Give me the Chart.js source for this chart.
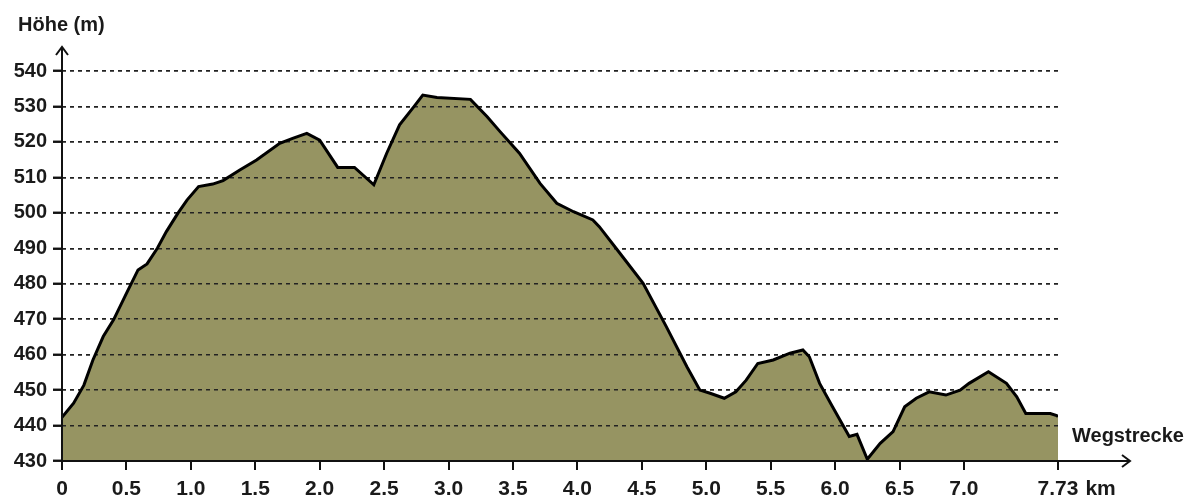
<!DOCTYPE html>
<html lang="de">
<head>
    <meta charset="UTF-8">
    <title>Höhenprofil</title>
    <script src="https://cdn.jsdelivr.net/npm/chart.js@4/dist/chart.umd.min.js"></script>
    <style>
        body { margin: 0; background: #ffffff; }
        #box { width: 1199px; height: 502px; }
    </style>
</head>
<body>
    <div id="box">
        <canvas id="profil" width="1199" height="502"></canvas>
    </div>
    <script>
        // Wegstrecke in km
        const strecke = [0, 0.09, 0.17, 0.24, 0.32, 0.40, 0.50, 0.59, 0.66, 0.74, 0.81, 0.90, 0.97, 1.06, 1.17, 1.25,
            1.38, 1.51, 1.69, 1.79, 1.90, 2.00, 2.14, 2.27, 2.42, 2.52, 2.62, 2.73, 2.80, 2.91, 3.17, 3.30, 3.40, 3.55,
            3.71, 3.84, 3.97, 4.12, 4.17, 4.33, 4.51, 4.69, 4.85, 4.95, 5.03, 5.14, 5.23, 5.31, 5.40, 5.52, 5.65, 5.75,
            5.80, 5.88, 5.98, 6.11, 6.17, 6.25, 6.35, 6.45, 6.54, 6.63, 6.73, 6.86, 6.97, 7.04, 7.19, 7.33, 7.41, 7.48,
            7.67, 7.72, 7.73];
        // Höhe in m
        const hoehe = [442.3, 446.3, 451.4, 458.5, 465.1, 469.8, 477.3, 483.9, 485.6, 490, 494.7, 499.9, 503.6, 507.4, 508.1, 509.1,
            512.1, 514.9, 519.6, 521, 522.4, 520.5, 512.8, 512.8, 507.9, 516.8, 524.8, 529.9, 533.2, 532.5, 532, 527.1, 522.9, 516.8,
            508.3, 502.7, 500.3, 498, 496.1, 488.6, 480.1, 467.9, 456.6, 450, 449.1, 447.7, 449.5, 452.8, 457.5, 458.5, 460.4, 461.3,
            459.4, 451.9, 445.3, 436.9, 437.5, 430.5, 435, 438.3, 445.3, 447.7, 449.5, 448.6, 450, 451.9, 455.2, 451.9, 448.1, 443.4,
            443.4, 442.8, 442.5];
        const xTicks = [0, 0.5, 1.0, 1.5, 2.0, 2.5, 3.0, 3.5, 4.0, 4.5, 5.0, 5.5, 6.0, 6.5, 7.0, 7.73];
        const xLabels = ["0", "0.5", "1.0", "1.5", "2.0", "2.5", "3.0", "3.5", "4.0", "4.5", "5.0", "5.5", "6.0", "6.5", "7.0", "7.73"];
        const yMin = 430;
        const yMax = 540;

        const punkte = strecke.map((s, i) => ({ x: s, y: hoehe[i] }));
        const schrift = "'Liberation Sans', Arial, sans-serif";

        // Gitter nochmal über die Fläche zeichnen, Pfeile und Beschriftungen
        const extras = {
            id: 'extras',
            afterDatasetDraw(chart, args) {
                if (args.index === 0) {
                    chart.scales.y.drawGrid(chart.chartArea);
                }
            },
            afterDraw(chart) {
                const c = chart.ctx;
                const x0 = chart.scales.x.getPixelForValue(0);
                const y0 = chart.scales.y.getPixelForValue(yMin);
                c.save();
                c.strokeStyle = '#111';
                c.lineWidth = 2;
                c.beginPath();
                c.moveTo(x0, y0);
                c.lineTo(x0, 47);
                c.moveTo(x0 - 6, 55);
                c.lineTo(x0, 47);
                c.lineTo(x0 + 6, 55);
                c.moveTo(x0, y0);
                c.lineTo(1130, y0);
                c.moveTo(1122, y0 - 6);
                c.lineTo(1130, y0);
                c.lineTo(1122, y0 + 6);
                c.stroke();

                c.fillStyle = '#1a1a1a';
                c.font = "bold 20px " + schrift;
                c.textBaseline = 'alphabetic';
                c.textAlign = 'left';
                c.fillText('Höhe (m)', 18, 31);
                c.fillText('Wegstrecke', 1072, 442);

                c.font = "bold 21px " + schrift;
                const xe = chart.scales.x.getPixelForValue(7.73);
                const w = c.measureText('7.73').width;
                c.fillText('km', xe + w / 2 + 7, 495);
                c.restore();
            }
        };

        const ctx = document.getElementById('profil').getContext('2d');
        const profil = new Chart(ctx, {
            type: 'line',
            data: {
                datasets: [
                    {
                        label: 'Fläche',
                        data: punkte,
                        fill: 'start',
                        backgroundColor: '#969462',
                        borderWidth: 0,
                        pointRadius: 0,
                        order: 2
                    },
                    {
                        label: 'Höhe',
                        data: punkte,
                        fill: false,
                        borderColor: '#000000',
                        borderWidth: 3,
                        pointRadius: 0,
                        tension: 0,
                        order: 1
                    }
                ]
            },
            plugins: [extras],
            options: {
                responsive: false,
                animation: false,
                events: [],
                layout: { padding: { left: 0, top: 71, right: 141, bottom: 0 } },
                plugins: {
                    legend: { display: false },
                    tooltip: { enabled: false }
                },
                scales: {
                    x: {
                        type: 'linear',
                        min: 0,
                        max: 7.73,
                        afterBuildTicks: (scale) => { scale.ticks = xTicks.map(v => ({ value: v })); },
                        afterFit: (scale) => { scale.height = 41; },
                        grid: { drawOnChartArea: false, drawTicks: true, tickLength: 9, color: '#111', lineWidth: 2 },
                        border: { display: false },
                        ticks: {
                            autoSkip: false,
                            maxRotation: 0,
                            padding: 7,
                            color: '#1a1a1a',
                            font: { family: schrift, size: 21, weight: 'bold' },
                            callback: (v) => {
                                const i = xTicks.indexOf(v);
                                return i >= 0 ? xLabels[i] : '';
                            }
                        }
                    },
                    y: {
                        min: yMin,
                        max: yMax,
                        afterFit: (scale) => { scale.width = 62; },
                        grid: { color: '#222', lineWidth: 1.5, tickLength: 9, tickColor: '#111', tickWidth: 2 },
                        border: { display: false, dash: [4, 4] },
                        ticks: {
                            stepSize: 10,
                            padding: 6,
                            color: '#1a1a1a',
                            font: { family: schrift, size: 20, weight: 'bold' }
                        }
                    }
                }
            }
        });
    </script>
</body>
</html>
